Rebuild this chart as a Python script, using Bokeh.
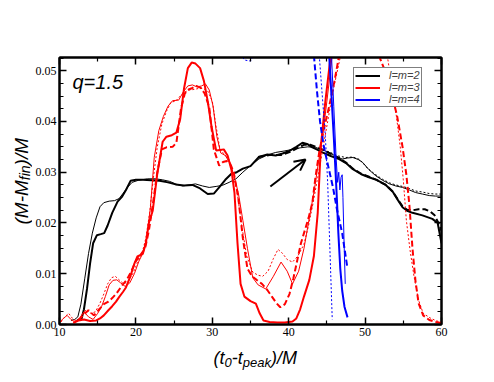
import math
from bokeh.plotting import figure
from bokeh.layouts import row, column
from bokeh.models import (Range1d, LinearAxis, FixedTicker, PrintfTickFormatter, Label,
                          Legend, LegendItem, Arrow, OpenHead)
from bokeh.embed import file_html
from bokeh.resources import INLINE

# ---------------- data ----------------
x_ticks = [10, 20, 30, 40, 50, 60]
x_minor = [15, 25, 35, 45, 55]
y_ticks = [0.0, 0.01, 0.02, 0.03, 0.04, 0.05]
y_minor = [0.0025, 0.005, 0.0075, 0.0125, 0.015, 0.0175, 0.0225, 0.025, 0.0275,
           0.0325, 0.035, 0.0375, 0.0425, 0.045, 0.0475, 0.0525]

# l=m=2 (black)
t_bk_thick = [12.3, 12.9, 13.2, 13.6, 14.0, 14.4, 14.9, 15.4, 15.85, 16.3, 16.9, 17.6, 18.2, 18.7, 19.3, 20.0,
              20.9, 22.0, 23.1, 24.2, 25.2, 26.3, 27.4, 28.4, 29.4, 30.2, 30.9, 31.7, 32.5, 33.2, 34.0,
              35.0, 36.1, 37.2, 38.3, 39.2, 40.1, 41.0, 41.8, 42.5, 43.1, 43.8, 44.4, 45.5, 46.6, 47.5,
              48.4, 49.5, 50.5, 51.5, 52.7, 53.6, 54.3, 54.9, 55.5, 56.2, 57.5, 58.8, 59.5, 60.0]
v_bk_thick = [0.0008, 0.0012, 0.0030, 0.0070, 0.0120, 0.0160, 0.0176, 0.0178, 0.0180, 0.0195, 0.0220, 0.0242,
              0.0252, 0.0265, 0.0283, 0.0285, 0.0285, 0.0284, 0.0283, 0.0280, 0.0276, 0.0274, 0.0275,
              0.0268, 0.0257, 0.0258, 0.0270, 0.0285, 0.0297, 0.0300, 0.0307, 0.0312, 0.0330, 0.0335,
              0.0333, 0.0337, 0.0342, 0.0350, 0.0358, 0.0355, 0.0349, 0.0344, 0.0339, 0.0332, 0.0326,
              0.0318, 0.0306, 0.0296, 0.0290, 0.0285, 0.0275, 0.0262, 0.0245, 0.0231, 0.0224, 0.0220,
              0.0215, 0.0208, 0.0200, 0.0160]
t_bk_thin = [11.5, 12.0, 12.4, 12.8, 13.3, 13.8, 14.3, 14.8, 15.3, 15.8, 16.5, 17.2, 17.8, 18.3, 18.9, 19.5,
             20.3, 21.5, 22.6, 23.5, 24.4, 25.2, 26.1, 27.0, 27.8, 28.7, 29.6, 30.5, 31.3, 32.2, 33.1,
             34.0, 35.0, 36.1, 37.2, 38.3, 39.5, 40.5, 41.5, 42.5, 43.5, 44.4, 45.3, 46.2, 47.0, 47.7,
             48.4, 49.1, 49.7, 50.5, 51.4, 52.3, 53.2, 54.0, 54.9, 55.8, 56.6, 57.5, 58.4, 59.2, 60.0]
v_bk_thin = [0.0008, 0.0010, 0.0015, 0.0040, 0.0090, 0.0140, 0.0180, 0.0210, 0.0232, 0.0240, 0.0243, 0.0244,
             0.0248, 0.0258, 0.0270, 0.0280, 0.0284, 0.0287, 0.0287, 0.0285, 0.0282, 0.0277, 0.0273,
             0.0275, 0.0277, 0.0273, 0.0270, 0.0272, 0.0274, 0.0280, 0.0287, 0.0300, 0.0313, 0.0326,
             0.0334, 0.0339, 0.0342, 0.0345, 0.0348, 0.0350, 0.0349, 0.0344, 0.0339, 0.0331, 0.0326,
             0.0328, 0.0329, 0.0325, 0.0319, 0.0305, 0.0293, 0.0284, 0.0277, 0.0273, 0.0270, 0.0265,
             0.0260, 0.0257, 0.0254, 0.0253, 0.0253]
t_bk_dash = [36.0, 37.5, 39.0, 40.2, 41.2, 42.0, 42.8, 43.6, 44.5, 45.5, 46.6, 47.5, 48.4, 49.5, 50.5, 51.5,
             52.7, 53.6, 54.3, 54.9, 55.5, 56.2, 57.0, 57.8, 58.5, 59.1, 59.6, 60.0]
v_bk_dash = [0.0330, 0.0334, 0.0334, 0.0340, 0.0348, 0.0354, 0.0354, 0.0350, 0.0344, 0.0336, 0.0328, 0.0319,
             0.0307, 0.0297, 0.0291, 0.0285, 0.0275, 0.0262, 0.0246, 0.0233, 0.0226, 0.0225, 0.0227,
             0.0227, 0.0223, 0.0215, 0.0200, 0.0185]
t_bk_dot = [44.0, 45.3, 46.5, 47.5, 48.4, 49.3, 50.3, 51.3, 52.3, 53.2, 54.0, 54.9, 55.8, 56.6, 57.5, 58.4,
            59.2, 60.0]
v_bk_dot = [0.0346, 0.0340, 0.0332, 0.0329, 0.0330, 0.0325, 0.0308, 0.0296, 0.0286, 0.0279, 0.0275, 0.0272,
            0.0268, 0.0263, 0.0261, 0.0258, 0.0257, 0.0257]

# l=m=3 (red)
t_r_thick = [11.8, 12.5, 13.2, 14.0, 14.8, 15.3, 15.8, 16.4, 16.9, 17.4, 17.8, 18.3, 18.7, 19.3, 19.8, 20.2,
             20.9, 21.3, 21.7, 22.2, 22.8, 23.5, 24.0, 24.7, 25.3, 25.8, 26.3, 26.8, 27.3, 27.8, 28.4,
             28.9, 29.4, 29.9, 30.5, 31.0, 31.5, 32.0, 32.5, 32.9, 33.3, 33.7, 34.2, 35.0, 35.7, 36.2,
             36.7, 37.5, 38.5, 39.5, 40.5, 41.0, 41.5, 42.0, 42.7, 43.3, 43.8, 44.2, 44.8, 45.5]
v_r_thick = [0.0003, 0.0008, 0.0010, 0.0007, 0.0008, 0.0012, 0.0018, 0.0028, 0.0036, 0.0045, 0.0054, 0.0064,
             0.0073, 0.0096, 0.0120, 0.0134, 0.0139, 0.0160, 0.0200, 0.0224, 0.0297, 0.0360, 0.0370,
             0.0373, 0.0378, 0.0405, 0.0465, 0.0505, 0.0516, 0.0514, 0.0505, 0.0480, 0.0440, 0.0390,
             0.0343, 0.0344, 0.0345, 0.0333, 0.0305, 0.0260, 0.0160, 0.0080, 0.0055, 0.0046, 0.0041,
             0.0022, 0.0008, 0.0005, 0.0004, 0.0004, 0.0006, 0.0012, 0.0030, 0.0055, 0.0088, 0.0135,
             0.0220, 0.0350, 0.0440, 0.0530]
t_r_dash = [12.5, 13.2, 13.8, 14.5, 15.2, 15.8, 16.4, 16.9, 17.5, 18.2, 18.8, 19.4, 20.0, 20.6, 21.2, 21.7,
            22.2, 22.8, 23.4, 24.0, 24.8, 25.3, 25.9, 26.4, 26.9, 27.4, 27.9, 28.5, 29.0, 29.6, 30.2,
            30.9, 31.4, 31.9, 32.4, 32.8, 33.4, 34.0, 34.6, 35.2, 35.8, 36.5, 37.2, 37.8, 38.4, 38.9,
            39.5, 40.1, 40.6, 41.1, 41.6, 42.0, 42.6, 43.1, 43.5, 44.0, 44.6, 45.3, 46.0, 46.6]
v_r_dash = [0.0008, 0.0020, 0.0028, 0.0018, 0.0030, 0.0040, 0.0045, 0.0052, 0.0062, 0.0077, 0.0088, 0.0105,
            0.0125, 0.0137, 0.0150, 0.0185, 0.0235, 0.0300, 0.0345, 0.0349, 0.0350, 0.0358, 0.0425,
            0.0455, 0.0463, 0.0466, 0.0470, 0.0466, 0.0455, 0.0428, 0.0345, 0.0313, 0.0320, 0.0322,
            0.0315, 0.0300, 0.0250, 0.0170, 0.0110, 0.0095, 0.0088, 0.0080, 0.0068, 0.0055, 0.0042,
            0.0034, 0.0040, 0.0060, 0.0090, 0.0125, 0.0160, 0.0180, 0.0210, 0.0240, 0.0290, 0.0340,
            0.0385, 0.0430, 0.0480, 0.0530]
t_r_dash_b = [51.8, 52.6, 53.4, 54.2, 54.9, 55.4, 55.8, 56.2, 56.6, 57.0, 57.6, 58.4, 59.2, 60.0]
v_r_dash_b = [0.0530, 0.0500, 0.0460, 0.0410, 0.0350, 0.0295, 0.0235, 0.0150, 0.0085, 0.0042, 0.0018,
              0.0009, 0.0005, 0.0003]
t_r_thin = [10.0, 10.5, 11.0, 11.5, 12.0, 12.6, 13.2, 13.8, 14.4, 15.0, 15.5, 16.0, 16.5, 17.0, 17.5, 18.0,
            18.6, 19.2, 19.8, 20.4, 20.9, 21.4, 21.9, 22.4, 23.0, 23.6, 24.2, 24.8, 25.6, 26.2, 26.8,
            27.4, 28.0, 28.6, 29.1, 29.6, 30.1, 30.6, 31.1, 31.7, 32.3, 32.8, 33.4, 34.0, 34.6, 35.3,
            36.0, 37.0, 38.0, 39.0, 39.8, 40.5, 41.3, 42.0, 42.7, 43.3, 43.9, 44.4, 45.0, 45.7]
v_r_thin = [0.0004, 0.0012, 0.0018, 0.0010, 0.0005, 0.0012, 0.0025, 0.0015, 0.0010, 0.0022, 0.0035, 0.0055,
            0.0078, 0.0087, 0.0088, 0.0082, 0.0075, 0.0082, 0.0100, 0.0125, 0.0140, 0.0170, 0.0230,
            0.0329, 0.0382, 0.0410, 0.0430, 0.0441, 0.0442, 0.0458, 0.0470, 0.0472, 0.0468, 0.0470,
            0.0474, 0.0462, 0.0430, 0.0370, 0.0338, 0.0333, 0.0318, 0.0295, 0.0260, 0.0205, 0.0150,
            0.0092, 0.0078, 0.0070, 0.0095, 0.0123, 0.0105, 0.0080, 0.0105, 0.0150, 0.0210, 0.0260,
            0.0320, 0.0366, 0.0440, 0.0530]
t_r_dot = [10.2, 10.7, 11.2, 11.8, 12.4, 13.0, 13.5, 14.1, 14.7, 15.3, 15.8, 16.3, 16.8, 17.3, 17.8, 18.4,
           19.0, 19.6, 20.2, 20.8, 21.3, 21.8, 22.3, 22.8, 23.4, 24.0, 24.6, 25.2, 25.8, 26.4, 27.0,
           27.6, 28.2, 28.8, 29.4, 30.0, 30.5, 31.0, 31.6, 32.2, 32.7, 33.3, 33.9, 34.5, 35.3, 36.0,
           36.6, 37.3, 38.0, 38.6, 39.2, 39.8, 40.5, 41.2, 42.0, 42.6, 43.2, 43.8, 44.4, 45.1, 45.8, 46.8]
v_r_dot = [0.0005, 0.0015, 0.0022, 0.0010, 0.0006, 0.0018, 0.0030, 0.0022, 0.0025, 0.0042, 0.0060, 0.0080,
           0.0092, 0.0095, 0.0088, 0.0080, 0.0085, 0.0100, 0.0122, 0.0140, 0.0170, 0.0220, 0.0290,
           0.0350, 0.0395, 0.0420, 0.0438, 0.0440, 0.0450, 0.0458, 0.0462, 0.0463, 0.0465, 0.0465,
           0.0460, 0.0440, 0.0390, 0.0345, 0.0335, 0.0325, 0.0300, 0.0255, 0.0190, 0.0135, 0.0103,
           0.0097, 0.0095, 0.0105, 0.0130, 0.0148, 0.0140, 0.0128, 0.0123, 0.0135, 0.0158, 0.0195,
           0.0240, 0.0290, 0.0340, 0.0400, 0.0460, 0.0530]
t_r_dot_b = [52.9, 53.5, 54.1, 54.6, 55.0, 55.4, 55.9, 56.4, 57.0, 57.6, 58.5, 59.2, 60.0]
v_r_dot_b = [0.0530, 0.0470, 0.0410, 0.0350, 0.0285, 0.0205, 0.0145, 0.0095, 0.0048, 0.0022, 0.0013,
             0.0008, 0.0004]

# l=m=4 (blue)
t_b_thick = [45.3, 45.6, 45.9, 46.1, 46.3, 46.5, 46.75, 47.0, 47.3, 47.7]
v_b_thick = [0.0530, 0.0450, 0.0370, 0.0310, 0.0250, 0.0180, 0.0110, 0.0067, 0.0035, 0.0014]
t_b_thin = [45.6, 45.9, 46.2, 46.4, 46.55, 46.7, 46.85, 47.0, 47.1, 47.25, 47.4]
v_b_thin = [0.0530, 0.0430, 0.0330, 0.0280, 0.0300, 0.0265, 0.0290, 0.0295, 0.0250, 0.0160, 0.0080]
t_b_dash = [43.3, 43.7, 44.1, 44.6, 45.2, 45.8, 46.3, 47.0, 47.4, 47.7]
v_b_dash = [0.0530, 0.0460, 0.0400, 0.0350, 0.0310, 0.0270, 0.0228, 0.0180, 0.0140, 0.0110]
t_b_dot = [44.0, 44.4, 44.8, 45.1, 45.3, 45.5, 45.7]
v_b_dot = [0.0530, 0.0450, 0.0370, 0.0280, 0.0190, 0.0100, 0.0010]
t_b_dot_a = [33.5, 34.2, 35.0, 35.7]
v_b_dot_a = [0.0540, 0.0521, 0.0519, 0.0540]

arrow_start = (37.6, 0.0272)
arrow_end = (42.2, 0.0325)

legend_labels = ["l=m=2", "l=m=3", "l=m=4"]
title_text = "q=1.5"
xlabel_pieces = [("(t", 18, 0), ("0", 13, 5), ("-t", 18, 0), ("peak", 13, 5), (")/M", 18, 0)]
ylabel_pieces = [("(M-M", 19, 0), ("fin", 14, 3.5), (")/M", 19, 0)]

# ---------------- main figure ----------------
YLAB_W = 32
LEFT_B = 25
p = figure(frame_width=382, frame_height=267, output_backend="svg", toolbar_location=None,
           x_range=Range1d(10, 60), y_range=Range1d(0, 0.0526),
           min_border_left=LEFT_B, min_border_right=50, min_border_top=57, min_border_bottom=20,
           background_fill_color="white", border_fill_color="white")
p.xgrid.visible = False
p.ygrid.visible = False
p.outline_line_color = "black"
p.outline_line_width = 2

xt = FixedTicker(ticks=x_ticks, minor_ticks=x_minor)
yt = FixedTicker(ticks=y_ticks, minor_ticks=y_minor)


def style_axis(ax, show_labels):
    ax.axis_line_width = 2
    ax.axis_line_color = "black"
    ax.major_tick_in = 7
    ax.major_tick_out = 0
    ax.minor_tick_in = 4
    ax.minor_tick_out = 0
    ax.major_tick_line_width = 1.5
    ax.minor_tick_line_width = 1.2
    ax.major_tick_line_color = "black"
    ax.minor_tick_line_color = "black"
    ax.major_label_text_font = "Liberation Serif"
    ax.major_label_text_font_size = "12px"
    ax.major_label_text_color = "black" if show_labels else None


p.xaxis.ticker = xt
p.yaxis.ticker = yt
p.yaxis.formatter = PrintfTickFormatter(format="%.2f")
style_axis(p.xaxis[0], True)
style_axis(p.yaxis[0], True)
p.xaxis.major_label_standoff = 3
p.yaxis.major_label_standoff = 3

ax_top = LinearAxis(ticker=xt)
style_axis(ax_top, False)
p.add_layout(ax_top, "above")
ax_right = LinearAxis(ticker=yt)
style_axis(ax_right, False)
p.add_layout(ax_right, "right")

# ---------------- curves ----------------
W_THICK = 2.0
W_THIN = 1.0
r_bk = p.line(t_bk_thick, v_bk_thick, line_color="black", line_width=W_THICK)
p.line(t_bk_dash, v_bk_dash, line_color="black", line_width=W_THICK, line_dash="6 3")
p.line(t_bk_thin, v_bk_thin, line_color="black", line_width=W_THIN)
p.line(t_bk_dot, v_bk_dot, line_color="black", line_width=W_THIN, line_dash="2 2")

r_red = p.line(t_r_thick, v_r_thick, line_color="red", line_width=W_THICK)
p.line(t_r_dash, v_r_dash, line_color="red", line_width=W_THICK, line_dash="6 3")
p.line(t_r_dash_b, v_r_dash_b, line_color="red", line_width=W_THICK, line_dash="6 3")
p.line(t_r_thin, v_r_thin, line_color="red", line_width=W_THIN)
p.line(t_r_dot, v_r_dot, line_color="red", line_width=W_THIN, line_dash="2 2")
p.line(t_r_dot_b, v_r_dot_b, line_color="red", line_width=W_THIN, line_dash="2 2")

r_blue = p.line(t_b_thick, v_b_thick, line_color="blue", line_width=W_THICK)
p.line(t_b_thin, v_b_thin, line_color="blue", line_width=W_THIN)
p.line(t_b_dash, v_b_dash, line_color="blue", line_width=W_THICK, line_dash="6 3")
p.line(t_b_dot, v_b_dot, line_color="blue", line_width=W_THIN, line_dash="2 2")
p.line(t_b_dot_a, v_b_dot_a, line_color="blue", line_width=W_THIN, line_dash="2 2")

p.add_layout(Arrow(x_start=arrow_start[0], y_start=arrow_start[1], x_end=arrow_end[0], y_end=arrow_end[1],
                   line_width=2, line_color="black",
                   end=OpenHead(size=11, line_width=2, line_color="black")))

# ---------------- legend ----------------
legend = Legend(items=[LegendItem(label=legend_labels[0], renderers=[r_bk]),
                       LegendItem(label=legend_labels[1], renderers=[r_red]),
                       LegendItem(label=legend_labels[2], renderers=[r_blue])],
                location=(294, 217), margin=0, padding=1, spacing=0,
                glyph_width=25, glyph_height=11, label_height=11, label_standoff=9,
                label_text_font="Liberation Sans", label_text_font_style="italic",
                label_text_font_size="11px", border_line_color="black", border_line_width=1.5,
                background_fill_color="white", background_fill_alpha=1.0)
p.add_layout(legend)

p.add_layout(Label(x=13, y=243, x_units="screen", y_units="screen", text=title_text,
                   text_font="Liberation Sans", text_font_style="italic", text_font_size="20px",
                   text_color="black", text_baseline="alphabetic"))

# ---------------- axis-title figures ----------------
WIDTHS = {'(': 0.333, ')': 0.333, 't': 0.278, '-': 0.333, '/': 0.278, 'M': 0.833, '0': 0.556,
          'p': 0.556, 'e': 0.556, 'a': 0.556, 'k': 0.5, 'f': 0.278, 'i': 0.222, 'n': 0.556}


def text_width(s, size):
    return sum(WIDTHS.get(c, 0.55) for c in s) * size


def blank_fig(w, h):
    f = figure(width=w, height=h, output_backend="svg", toolbar_location=None,
               x_axis_type=None, y_axis_type=None, min_border=0,
               x_range=Range1d(0, 1), y_range=Range1d(0, 1),
               outline_line_color=None, background_fill_color="white", border_fill_color="white")
    f.xgrid.visible = False
    f.ygrid.visible = False
    return f


def compound_label(fig, pieces, x0, y0, vertical):
    pos = 0.0
    for s, size, shift in pieces:
        if vertical:
            lx, ly, ang = x0 + shift, y0 + pos, math.pi / 2
        else:
            lx, ly, ang = x0 + pos, y0 - shift, 0.0
        fig.add_layout(Label(x=lx, y=ly, x_units="screen", y_units="screen", text=s, angle=ang,
                             text_font="Liberation Sans", text_font_style="italic",
                             text_font_size=f"{size}px", text_color="black",
                             text_align="left", text_baseline="alphabetic"))
        pos += text_width(s, size)


P_H = 57 + 267 + 20
P_W = LEFT_B + 382 + 50
yfig = blank_fig(YLAB_W, P_H)
compound_label(yfig, ylabel_pieces, 21, 100, True)

XLAB_H = 35
xfig = blank_fig(YLAB_W + P_W, XLAB_H)
compound_label(xfig, xlabel_pieces, 213, 22, False)

layout = column(row(yfig, p, spacing=0), xfig, spacing=0)

open("out.html", "w").write(file_html(layout, INLINE))
